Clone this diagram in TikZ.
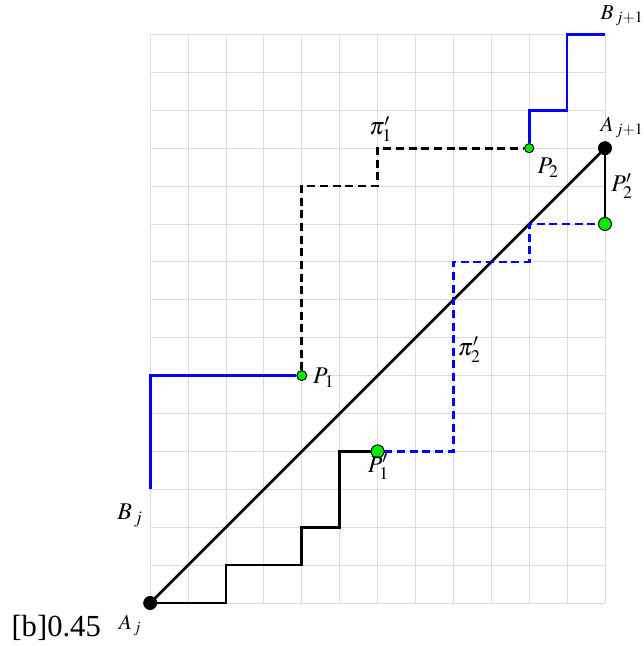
\documentclass[tikz,border=0pt]{standalone}
\usepackage{mathptmx}
\usepackage{fontspec}
\setmainfont{Liberation Serif}
\definecolor{gridgray}{RGB}{220,220,220}
\definecolor{ptgreen}{RGB}{0,235,0}
\tikzset{
  gridline/.style={draw=gridgray, line width=0.7pt},
  blackpath/.style={draw=black, line width=2pt},
  bluepath/.style={draw=blue, line width=2pt},
  blackdash/.style={draw=black, line width=2pt, dash pattern=on 6pt off 3.5pt},
  bluedash/.style={draw=blue, line width=2pt, dash pattern=on 6pt off 3.5pt},
  bigdot/.style={circle, fill=black, inner sep=0pt, minimum size=#1},
  greendot/.style={circle, draw=black, fill=ptgreen, line width=0.6pt, inner sep=0pt, minimum size=#1},
  lbl/.style={font=\fontsize{18}{21}\selectfont, inner sep=0pt},
  smalllbl/.style={font=\fontsize{16}{19}\selectfont, inner sep=0pt}
}
\begin{document}
\begin{tikzpicture}[x=1cm,y=1cm]
\useasboundingbox (-3.963,-1.135) rectangle (13.025,15.91);
\draw[gridline] (0,0) grid (12,15);
% corners of paths
\coordinate (s1) at (2,0); \coordinate (s2) at (2,1); \coordinate (s3) at (4,1);
\coordinate (s4) at (4,2); \coordinate (s5) at (5,2); \coordinate (s6) at (5,4);
\coordinate (d1) at (8,4); \coordinate (d2) at (8,9); \coordinate (d3) at (10,9);
\coordinate (d4) at (10,10);
\coordinate (bj) at (0,3); \coordinate (b1) at (0,6);
\coordinate (k1) at (4,11); \coordinate (k2) at (6,11); \coordinate (k3) at (6,12);
\coordinate (u1) at (10,13); \coordinate (u2) at (11,13); \coordinate (u3) at (11,15);
\coordinate (bj1) at (12,15);
% points
\node[bigdot=0.36cm] (Aj) at (0,0) {};
\node[bigdot=0.36cm] (Aj1) at (12,12) {};
\node[greendot=0.26cm] (P1) at (4,6) {};
\node[greendot=0.34cm] (P1p) at (6,4) {};
\node[greendot=0.24cm] (P2) at (10,12) {};
\node[greendot=0.34cm] (P2p) at (12,10) {};
% paths
\draw[blackpath] (Aj.center) -- (Aj1.center);
\draw[blackpath] (Aj.center) -- (s1) -- (s2) -- (s3) -- (s4) -- (s5) -- (s6) -- (P1p);
\draw[bluedash] (P1p) -- (d1) -- (d2) -- (d3) -- (d4) -- (P2p);
\draw[blackpath] (P2p) -- (Aj1.center);
\draw[bluepath] (bj) -- (b1) -- (P1);
\draw[blackdash] (P1) -- (k1) -- (k2) -- (k3) -- (P2);
\draw[bluepath] (P2) -- (u1) -- (u2) -- (u3) -- (bj1);
% redraw dots on top
\node[bigdot=0.36cm] at (Aj) {};
\node[bigdot=0.36cm] at (Aj1) {};
\node[greendot=0.26cm] at (P1) {};
\node[greendot=0.34cm] at (P1p) {};
\node[greendot=0.24cm] at (P2) {};
\node[greendot=0.34cm] at (P2p) {};
% labels
\node[smalllbl] (lAj) at (-0.53,-0.6) {$A_{\,j}$};
\node[lbl] (lBj) at (-0.53,2.3) {$B_{\,j}$};
\node[smalllbl] (lBj1) at (12.45,15.5) {$B_{\,j+1}$};
\node[smalllbl] (lAj1) at (12.45,12.55) {$A_{\,j+1}$};
\node[lbl] (lP2) at (10.5,11.48) {$P_2$};
\node[lbl] (lP2p) at (12.45,11.0) {$P_2'$};
\node[lbl] (lpi1) at (6.08,12.5) {$\pi_1'$};
\node[lbl] (lpi2) at (8.42,6.68) {$\pi_2'$};
\node[lbl] (lP1) at (4.58,5.94) {$P_1$};
\node[lbl] (lP1p) at (6.02,3.6) {$P_1'$};
\node[font=\fontsize{23}{26}\selectfont, inner sep=0pt] (stray) at (-2.48,-0.66) {[b]0.45};
\end{tikzpicture}
\end{document}
